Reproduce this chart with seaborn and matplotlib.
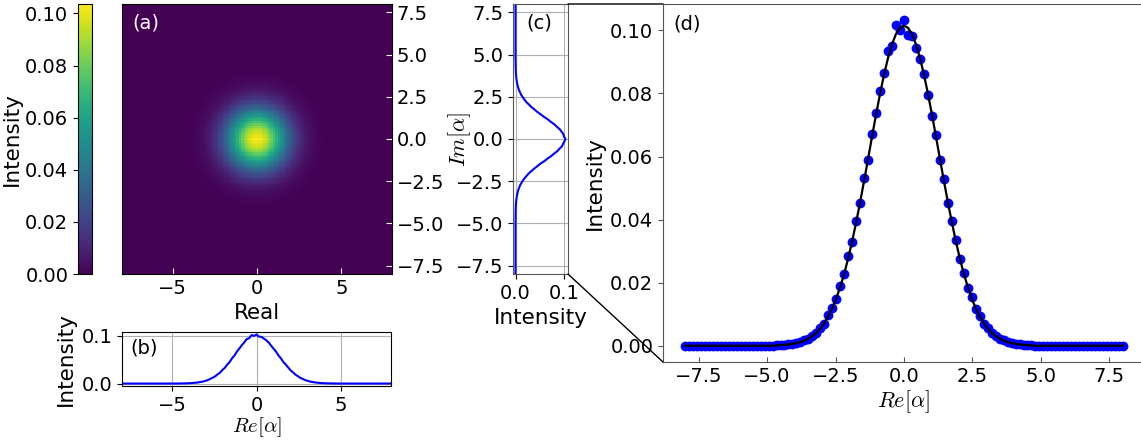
import numpy as np
import pandas as pd
import matplotlib.pyplot as plt
import seaborn as sns
from matplotlib.patches import ConnectionPatch

# sampling grid of alpha (111 points between -8 and 8)
alpha_grid = np.linspace(-8, 8, 111)

# measured marginal along Re[alpha] (points in (d), line in (b))
re_intensity = [
    0.0, 0.0, 0.0, 0.0, 0.0, 0.0, 0.0, 0.0, 0.0, 0.0, 0.0, 0.0,
    0.0, 0.0, 0.0, 0.0, 0.0, 0.0, 0.0, 0.0, 0.0, 0.0, 0.0,
    0.0001, 0.0002, 0.0003, 0.0004, 0.0006, 0.0008, 0.0012, 0.0017,
    0.0022, 0.0032, 0.0040, 0.0057, 0.0070, 0.0096, 0.0121, 0.0148,
    0.0190, 0.0226, 0.0283, 0.0329, 0.0397, 0.0451, 0.0531, 0.0590,
    0.0672, 0.0738, 0.0807, 0.0866, 0.0935, 0.0952, 0.1018, 0.1001,
    0.1032,
    0.0986, 0.0982, 0.0945, 0.0910, 0.0862, 0.0796, 0.0730, 0.0669,
    0.0590, 0.0528, 0.0452, 0.0396, 0.0335, 0.0275, 0.0232, 0.0184,
    0.0153, 0.0116, 0.0095, 0.0070, 0.0056, 0.0040, 0.0032, 0.0022,
    0.0017, 0.0011, 0.0008, 0.0006, 0.0004, 0.0003, 0.0002, 0.0001,
    0.0, 0.0, 0.0, 0.0, 0.0, 0.0, 0.0, 0.0, 0.0, 0.0, 0.0, 0.0,
    0.0, 0.0, 0.0, 0.0, 0.0, 0.0, 0.0, 0.0, 0.0, 0.0, 0.0,
]

# gaussian fit of the Re marginal (black curve in (d))
re_fit = [
    0.0, 0.0, 0.0, 0.0, 0.0, 0.0, 0.0, 0.0, 0.0, 0.0, 0.0, 0.0,
    0.0, 0.0, 0.0, 0.0, 0.0, 0.0, 0.0, 0.0, 0.0, 0.0, 0.0,
    0.0001, 0.0002, 0.0003, 0.0004, 0.0006, 0.0008, 0.0012, 0.0016,
    0.0023, 0.0031, 0.0041, 0.0055, 0.0072, 0.0093, 0.0119, 0.0150,
    0.0187, 0.0229, 0.0278, 0.0332, 0.0392, 0.0456, 0.0524, 0.0594,
    0.0665, 0.0734, 0.0800, 0.0860, 0.0913, 0.0956, 0.0989, 0.1008,
    0.1015,
    0.1008, 0.0989, 0.0956, 0.0913, 0.0860, 0.0800, 0.0734, 0.0665,
    0.0594, 0.0524, 0.0456, 0.0392, 0.0332, 0.0278, 0.0229, 0.0187,
    0.0150, 0.0119, 0.0093, 0.0072, 0.0055, 0.0041, 0.0031, 0.0023,
    0.0016, 0.0012, 0.0008, 0.0006, 0.0004, 0.0003, 0.0002, 0.0001,
    0.0, 0.0, 0.0, 0.0, 0.0, 0.0, 0.0, 0.0, 0.0, 0.0, 0.0, 0.0,
    0.0, 0.0, 0.0, 0.0, 0.0, 0.0, 0.0, 0.0, 0.0, 0.0, 0.0,
]

# measured marginal along Im[alpha] (line in (c))
im_intensity = [
    0.0, 0.0, 0.0, 0.0, 0.0, 0.0, 0.0, 0.0, 0.0, 0.0, 0.0, 0.0,
    0.0, 0.0, 0.0, 0.0, 0.0, 0.0, 0.0, 0.0, 0.0, 0.0, 0.0,
    0.0001, 0.0002, 0.0002, 0.0004, 0.0005, 0.0008, 0.0011, 0.0016,
    0.0023, 0.0030, 0.0042, 0.0054, 0.0073, 0.0091, 0.0120, 0.0149,
    0.0188, 0.0231, 0.0276, 0.0334, 0.0390, 0.0458, 0.0521, 0.0597,
    0.0662, 0.0737, 0.0797, 0.0864, 0.0909, 0.0961, 0.0985, 0.1012,
    0.1036,
    0.1004, 0.0992, 0.0953, 0.0916, 0.0857, 0.0803, 0.0731, 0.0668,
    0.0591, 0.0526, 0.0454, 0.0394, 0.0330, 0.0280, 0.0227, 0.0186,
    0.0151, 0.0118, 0.0094, 0.0071, 0.0055, 0.0041, 0.0031, 0.0023,
    0.0016, 0.0012, 0.0008, 0.0006, 0.0004, 0.0003, 0.0002, 0.0001,
    0.0, 0.0, 0.0, 0.0, 0.0, 0.0, 0.0, 0.0, 0.0, 0.0, 0.0, 0.0,
    0.0, 0.0, 0.0, 0.0, 0.0, 0.0, 0.0, 0.0, 0.0, 0.0, 0.0,
]

df = pd.DataFrame({'alpha': alpha_grid, 're': re_intensity,
                   'fit': re_fit, 'im': im_intensity})

plt.rcParams['mathtext.fontset'] = 'cm'
plt.rcParams['font.size'] = 14

TICK = 14
LAB = 15.5
MATH = 16
PANEL = 14

W, H = 1141, 441
fig = plt.figure(figsize=(W / 100, H / 100), dpi=100)


def box(x0, y0, x1, y1):
    return [x0 / W, 1 - y1 / H, (x1 - x0) / W, (y1 - y0) / H]


cax = fig.add_axes(box(78, 4, 92, 274))
ax_a = fig.add_axes(box(122, 4, 392, 274))
ax_b = fig.add_axes(box(122, 332, 391, 386))
ax_c = fig.add_axes(box(513, 4, 568, 274))
ax_d = fig.add_axes(box(663, 4, 1145, 362))

# (a) 2D intensity map built from the two marginals
image = np.outer(df['im'], df['fit']) / df['fit'].max()
im = ax_a.imshow(image, origin='lower', extent=[-8, 8, -8, 8], cmap='viridis',
                 aspect='auto', vmin=0, interpolation='nearest')
ax_a.yaxis.tick_right()
ax_a.set_xticks([-5, 0, 5])
ax_a.set_yticks(np.arange(-7.5, 7.6, 2.5))
ax_a.tick_params(direction='in', color='white', labelsize=TICK, length=4)
ax_a.set_xlabel('Real', fontsize=LAB)
ax_a.text(0.04, 0.965, '(a)', color='white', transform=ax_a.transAxes,
          va='top', fontsize=PANEL)

cb = fig.colorbar(im, cax=cax)
cax.yaxis.set_ticks_position('left')
cax.yaxis.set_label_position('left')
cax.tick_params(labelsize=TICK)
cb.set_label('Intensity', fontsize=LAB, labelpad=2)

# (b) Re marginal
sns.lineplot(data=df, x='alpha', y='re', ax=ax_b, color='blue', lw=1.5)
ax_b.set_xlim(-8, 8)
ax_b.set_yticks([0.0, 0.1])
ax_b.set_xticks([-5, 0, 5])
ax_b.grid(True, color='#b0b0b0', lw=0.8)
ax_b.tick_params(labelsize=TICK)
ax_b.set_xlabel(r'$Re[\alpha]$', fontsize=15, labelpad=0)
ax_b.set_ylabel('Intensity', fontsize=LAB)
ax_b.text(0.03, 0.88, '(b)', transform=ax_b.transAxes, va='top', fontsize=PANEL)

# (c) Im marginal
sns.lineplot(data=df, x='im', y='alpha', orient='y', ax=ax_c, color='blue', lw=1.5)
ax_c.set_ylim(-8, 8)
ax_c.set_xticks([0.0, 0.1])
ax_c.set_yticks(np.arange(-7.5, 7.6, 2.5))
ax_c.grid(True, color='#b0b0b0', lw=0.8)
ax_c.tick_params(labelsize=TICK)
ax_c.set_xlabel('Intensity', fontsize=LAB)
ax_c.set_ylabel(r'$Im[\alpha]$', fontsize=MATH)
ax_c.yaxis.set_label_coords(-0.72, 0.5)
ax_c.text(0.25, 0.965, '(c)', transform=ax_c.transAxes, va='top', fontsize=PANEL)
for s in ax_c.spines.values():
    s.set_color('#555555')

# (d) Re marginal with gaussian fit
sns.scatterplot(data=df, x='alpha', y='re', ax=ax_d, color='blue', s=50,
                linewidth=0, zorder=2)
sns.lineplot(data=df, x='alpha', y='fit', ax=ax_d, color='black', lw=1.6, zorder=3)
ax_d.set_xticks(np.arange(-7.5, 7.6, 2.5))
ax_d.set_yticks(np.arange(0, 0.101, 0.02))
ax_d.tick_params(axis='x', direction='in', labelsize=TICK, color='#555555')
ax_d.tick_params(axis='y', direction='out', labelsize=TICK, color='#555555')
ax_d.set_xlabel(r'$Re[\alpha]$', fontsize=MATH, labelpad=2)
ax_d.set_ylabel('Intensity', fontsize=LAB)
ax_d.spines['right'].set_visible(False)
for s in ['left', 'top', 'bottom']:
    ax_d.spines[s].set_color('#555555')
ax_d.text(0.021, 0.97, '(d)', transform=ax_d.transAxes, va='top', fontsize=PANEL)

# zoom connectors from (c) to (d)
for yc in (1, 0):
    con = ConnectionPatch(xyA=(1, yc), coordsA=ax_c.transAxes,
                          xyB=(0, yc), coordsB=ax_d.transAxes,
                          color='black', lw=1)
    fig.add_artist(con)

fig.savefig('out.png', dpi=100)
